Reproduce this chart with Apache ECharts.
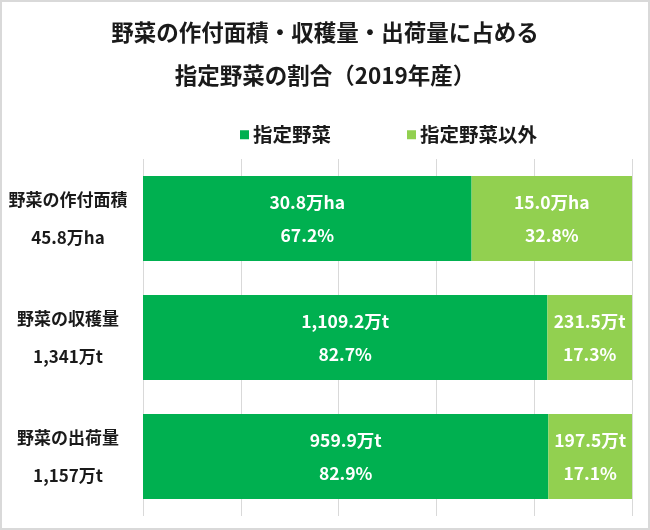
<!DOCTYPE html>
<html>
<head>
<meta charset="utf-8">
<script src="https://cdn.jsdelivr.net/npm/echarts@6/dist/echarts.min.js"></script>
<style>
html,body{margin:0;padding:0;background:#fff;}
#c{width:650px;height:530px;}
</style>
</head>
<body>
<div id="c"></div>
<script>
const categories = ['野菜の作付面積', '野菜の収穫量', '野菜の出荷量'];
const totals = ['45.8万ha', '1,341万t', '1,157万t'];
const designatedPct = [67.2, 82.7, 82.9];
const otherPct = [32.8, 17.3, 17.1];
const designatedAmt = ['30.8万ha', '1,109.2万t', '959.9万t'];
const otherAmt = ['15.0万ha', '231.5万t', '197.5万t'];
const xTicks = [0, 20, 40, 60, 80, 100];

const FONT = '"Noto Sans CJK JP", "Noto Sans", sans-serif';
const chart = echarts.init(document.getElementById('c'), null, {renderer: 'canvas'});

function labelFor(amts, pcts) {
  return {
    show: true,
    position: 'inside',
    color: '#ffffff',
    fontFamily: FONT,
    fontWeight: 'bold',
    fontSize: 17.5,
    lineHeight: 33,
    formatter: p => amts[p.dataIndex] + '\n' + pcts[p.dataIndex].toFixed(1) + '%'
  };
}

chart.setOption({
  animation: false,
  backgroundColor: '#ffffff',
  textStyle: {fontFamily: FONT},
  graphic: [{
    type: 'rect',
    shape: {x: 1, y: 1, width: 648, height: 528},
    style: {fill: 'none', stroke: '#d9d9d9', lineWidth: 2},
    silent: true
  }],
  title: {
    text: '野菜の作付面積・収穫量・出荷量に占める\n指定野菜の割合（2019年産）',
    left: 'center',
    top: 6,
    textStyle: {fontFamily: FONT, fontWeight: 'bold', fontSize: 22.5, color: '#1a1a1a', lineHeight: 43}
  },
  legend: {
    top: 120,
    left: 235,
    itemWidth: 9,
    itemHeight: 9,
    itemGap: 76,
    icon: 'rect',
    textStyle: {fontFamily: FONT, fontWeight: 'bold', fontSize: 19.5, color: '#1a1a1a', padding: [0, 0, 0, -1]},
    data: ['指定野菜', '指定野菜以外']
  },
  grid: {left: 143, right: 18, top: 159, bottom: 14, containLabel: false},
  xAxis: {
    type: 'value',
    min: xTicks[0],
    max: xTicks[xTicks.length - 1],
    interval: xTicks[1] - xTicks[0],
    axisLabel: {show: false},
    axisLine: {show: false},
    axisTick: {show: false},
    splitLine: {show: true, lineStyle: {color: '#d9d9d9', width: 1}}
  },
  yAxis: {
    type: 'category',
    inverse: true,
    data: categories,
    axisLine: {show: false},
    axisTick: {show: false},
    axisLabel: {
      align: 'center',
      margin: 75,
      fontFamily: FONT,
      fontWeight: 'bold',
      fontSize: 17,
      lineHeight: 38,
      color: '#1a1a1a',
      formatter: (v, i) => v + '\n' + totals[i]
    }
  },
  series: [
    {
      name: '指定野菜',
      type: 'bar',
      stack: 'all',
      barWidth: 85,
      itemStyle: {color: '#00B050'},
      label: labelFor(designatedAmt, designatedPct),
      data: designatedPct
    },
    {
      name: '指定野菜以外',
      type: 'bar',
      stack: 'all',
      barWidth: 85,
      itemStyle: {color: '#92D050'},
      label: labelFor(otherAmt, otherPct),
      data: otherPct
    }
  ]
});
</script>
</body>
</html>
